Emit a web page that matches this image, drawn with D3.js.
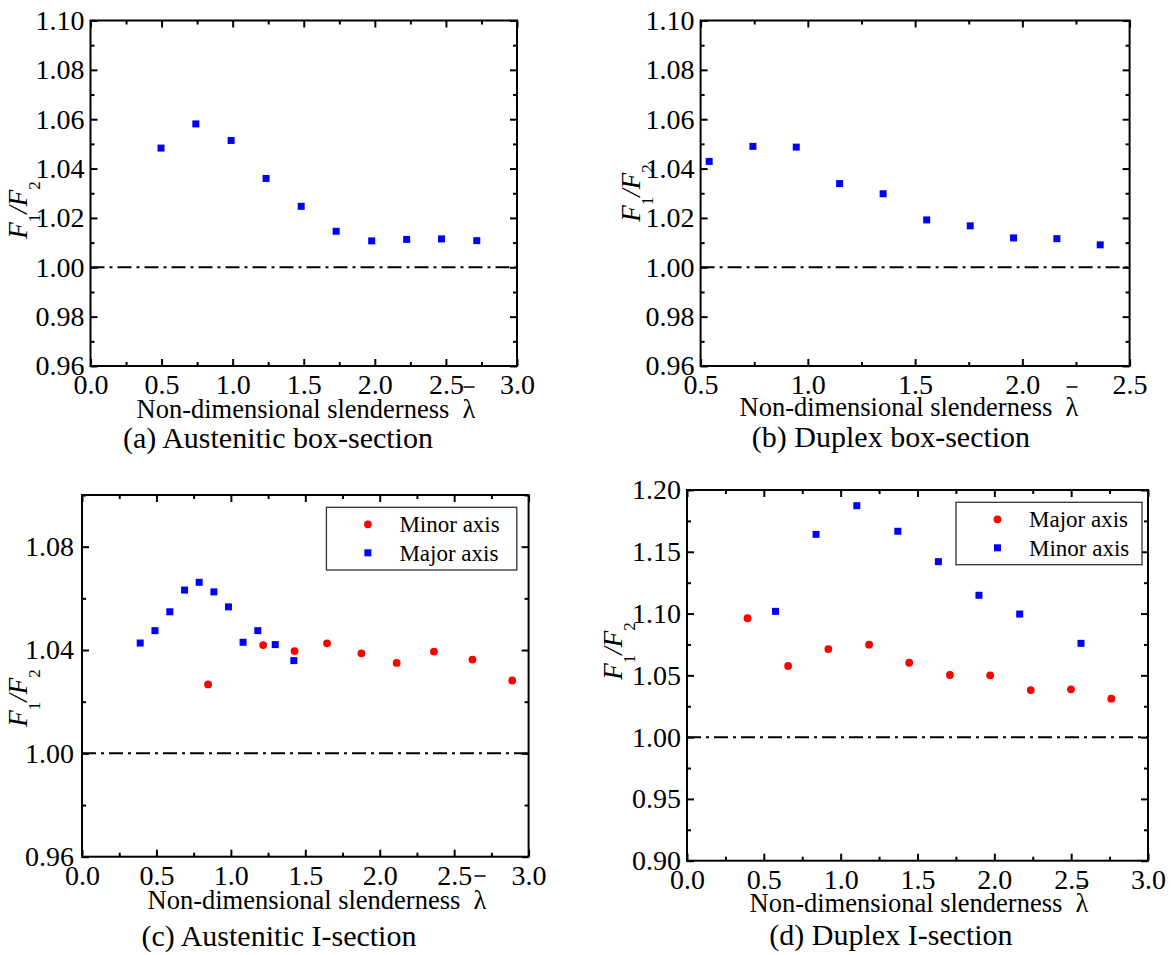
<!DOCTYPE html>
<html lang="en">
<head>
<meta charset="utf-8">
<title>F1/F2 against non-dimensional slenderness</title>
<script src="https://d3js.org/d3.v7.min.js"></script>
<style>
  body { margin: 0; background: #fff; }
  svg { display: block; }
  text { font-family: "Liberation Serif", "Times New Roman", serif; fill: #000; }
</style>
</head>
<body>
<svg id="chart" width="1171" height="955"></svg>
<script>
// (a) austenitic box-section
const lamA   = [0.496, 0.741, 0.989, 1.235, 1.482, 1.728, 1.978, 2.224, 2.469, 2.717];
const ratioA = [1.0483, 1.0581, 1.0514, 1.0360, 1.0247, 1.0146, 1.0107, 1.0113, 1.0115, 1.0108];

// (b) duplex box-section
const lamB   = [0.540, 0.744, 0.946, 1.148, 1.351, 1.554, 1.757, 1.959, 2.161, 2.363];
const ratioB = [1.0429, 1.0490, 1.0487, 1.0339, 1.0298, 1.0192, 1.0168, 1.0119, 1.0116, 1.0091];

// (c) austenitic I-section
const lamCMajor   = [0.391, 0.490, 0.590, 0.689, 0.787, 0.886, 0.984, 1.082, 1.181, 1.298, 1.423];
const ratioCMajor = [1.0427, 1.0475, 1.0548, 1.0632, 1.0662, 1.0625, 1.0567, 1.0430, 1.0475, 1.0421, 1.0359];
const lamCMinor   = [0.847, 1.217, 1.428, 1.646, 1.877, 2.114, 2.364, 2.623, 2.890];
const ratioCMinor = [1.0267, 1.0419, 1.0396, 1.0426, 1.0387, 1.0350, 1.0394, 1.0363, 1.0282];

// (d) duplex I-section
const lamDMajor   = [0.394, 0.658, 0.920, 1.185, 1.446, 1.711, 1.973, 2.237, 2.499, 2.761];
const ratioDMajor = [1.0962, 1.0576, 1.0713, 1.0748, 1.0602, 1.0503, 1.0500, 1.0381, 1.0387, 1.0311];
const lamDMinor   = [0.576, 0.840, 1.105, 1.372, 1.636, 1.900, 2.165, 2.564];
const ratioDMinor = [1.1018, 1.1641, 1.1873, 1.1666, 1.1420, 1.1148, 1.0996, 1.0759];

// ticks
const xTicks03  = [0, 0.5, 1.0, 1.5, 2.0, 2.5, 3.0];
const xLabels03 = ["0.0", "0.5", "1.0", "1.5", "2.0", "2.5", "3.0"];
const xTicksB   = [0.5, 1.0, 1.5, 2.0, 2.5];
const xLabelsB  = ["0.5", "1.0", "1.5", "2.0", "2.5"];
const yTicksBox  = [0.96, 0.98, 1.00, 1.02, 1.04, 1.06, 1.08, 1.10];
const yLabelsBox = ["0.96", "0.98", "1.00", "1.02", "1.04", "1.06", "1.08", "1.10"];
const yTicksC   = [0.96, 1.00, 1.04, 1.08];
const yLabelsC  = ["0.96", "1.00", "1.04", "1.08"];
const yTicksD   = [0.90, 0.95, 1.00, 1.05, 1.10, 1.15, 1.20];
const yLabelsD  = ["0.90", "0.95", "1.00", "1.05", "1.10", "1.15", "1.20"];

const legendC = ["Minor axis", "Major axis"];
const legendD = ["Major axis", "Minor axis"];
const captions = ["(a) Austenitic box-section", "(b) Duplex box-section",
                  "(c) Austenitic I-section", "(d) Duplex I-section"];
const xTitle = "Non-dimensional slenderness\u00a0\u00a0\u03bb";

const RED = "#ff0000", BLUE = "#0000ff";

const panels = [
  { box: [90.5, 20.5, 517, 366], xDom: [0, 3], yDom: [0.96, 1.10],
    xT: xTicks03, xL: xLabels03, xStep: 0.25, yT: yTicksBox, yL: yLabelsBox, yStep: 0.01,
    series: [{ x: lamA, y: ratioA, shape: "square", color: BLUE }],
    cap: captions[0], capX: 278, capY: 448, tX: 306, tY: 418, barY: 387,
    yTX: 27, yTY: 210, yPad: 6 },
  { box: [700.6, 20.5, 1129.6, 366], xDom: [0.5, 2.5], yDom: [0.96, 1.10],
    xT: xTicksB, xL: xLabelsB, xStep: 0.25, yT: yTicksBox, yL: yLabelsBox, yStep: 0.01,
    series: [{ x: lamB, y: ratioB, shape: "square", color: BLUE }],
    cap: captions[1], capX: 891, capY: 447, tX: 909, tY: 416, barY: 387,
    yTX: 640, yTY: 193, yPad: 6 },
  { box: [82, 495, 528.6, 856.7], xDom: [0, 3], yDom: [0.96, 1.10],
    xT: xTicks03, xL: xLabels03, xStep: 0.25, yT: yTicksC, yL: yLabelsC, yStep: 0.02,
    series: [{ x: lamCMinor, y: ratioCMinor, shape: "circle", color: RED },
             { x: lamCMajor, y: ratioCMajor, shape: "square", color: BLUE }],
    legend: { names: legendC, box: [326.4, 507.3, 190.4, 62.7] },
    cap: captions[2], capX: 279, capY: 946, tX: 317, tY: 909, barY: 876,
    yTX: 27, yTY: 698, yPad: 8 },
  { box: [687, 490, 1148, 860.7], xDom: [0, 3], yDom: [0.90, 1.20],
    xT: xTicks03, xL: xLabels03, xStep: 0.25, yT: yTicksD, yL: yLabelsD, yStep: 0.025,
    series: [{ x: lamDMajor, y: ratioDMajor, shape: "circle", color: RED },
             { x: lamDMinor, y: ratioDMinor, shape: "square", color: BLUE }],
    legend: { names: legendD, box: [956, 502.3, 186, 62.4] },
    cap: captions[3], capX: 891, capY: 945, tX: 919, tY: 912, barY: 886,
    yTX: 622, yTY: 651, yPad: 6 }
];

const svg = d3.select("#chart");

function minorTicks(dom, step) {
  const out = [];
  for (let v = dom[0]; v <= dom[1] + 1e-9; v += step) out.push(+v.toFixed(4));
  return out;
}

function styleAxis(g) {
  g.select(".domain").remove();
  g.selectAll("line").attr("stroke", "#000").attr("stroke-width", 2);
  g.attr("font-family", null).attr("font-size", null);
  g.selectAll("text").style("font-size", "28px");
}

panels.forEach(p => {
  const [x0, y0, x1, y1] = p.box;
  const x = d3.scaleLinear().domain(p.xDom).range([x0, x1]);
  const y = d3.scaleLinear().domain(p.yDom).range([y1, y0]);
  const g = svg.append("g");

  const xMinor = minorTicks(p.xDom, p.xStep).filter(v => !p.xT.some(t => Math.abs(t - v) < 1e-6));
  const yMinor = minorTicks(p.yDom, p.yStep).filter(v => !p.yT.some(t => Math.abs(t - v) < 1e-6));
  const none = () => "";

  // ticks, all pointing inward
  g.append("g").attr("transform", `translate(0,${y1})`)
    .call(d3.axisBottom(x).tickValues(p.xT).tickSize(-7).tickPadding(8)
      .tickFormat((d, i) => p.xL[i])).call(styleAxis);
  g.append("g").attr("transform", `translate(0,${y1})`)
    .call(d3.axisBottom(x).tickValues(xMinor).tickSize(-4).tickFormat(none)).call(styleAxis);
  g.append("g").attr("transform", `translate(0,${y0})`)
    .call(d3.axisTop(x).tickValues(p.xT).tickSize(-7).tickFormat(none)).call(styleAxis);
  g.append("g").attr("transform", `translate(0,${y0})`)
    .call(d3.axisTop(x).tickValues(xMinor).tickSize(-4).tickFormat(none)).call(styleAxis);
  g.append("g").attr("transform", `translate(${x0},0)`)
    .call(d3.axisLeft(y).tickValues(p.yT).tickSize(-7).tickPadding(p.yPad)
      .tickFormat((d, i) => p.yL[i])).call(styleAxis);
  g.append("g").attr("transform", `translate(${x0},0)`)
    .call(d3.axisLeft(y).tickValues(yMinor).tickSize(-4).tickFormat(none)).call(styleAxis);
  g.append("g").attr("transform", `translate(${x1},0)`)
    .call(d3.axisRight(y).tickValues(p.yT).tickSize(-7).tickFormat(none)).call(styleAxis);
  g.append("g").attr("transform", `translate(${x1},0)`)
    .call(d3.axisRight(y).tickValues(yMinor).tickSize(-4).tickFormat(none)).call(styleAxis);

  // reference line F1/F2 = 1
  g.append("line")
    .attr("x1", x0).attr("x2", x1).attr("y1", y(1)).attr("y2", y(1))
    .attr("stroke", "#000").attr("stroke-width", 2)
    .attr("stroke-dasharray", "14,5,3,5");

  // frame
  g.append("rect").attr("x", x0).attr("y", y0)
    .attr("width", x1 - x0).attr("height", y1 - y0)
    .attr("fill", "none").attr("stroke", "#000").attr("stroke-width", 2);

  // markers
  p.series.forEach(s => {
    const pts = s.x.map((v, i) => [v, s.y[i]]);
    if (s.shape === "square") {
      g.selectAll(null).data(pts).enter().append("rect")
        .attr("x", d => x(d[0]) - 3.5).attr("y", d => y(d[1]) - 3.5)
        .attr("width", 7).attr("height", 7).attr("fill", s.color);
    } else {
      g.selectAll(null).data(pts).enter().append("circle")
        .attr("cx", d => x(d[0])).attr("cy", d => y(d[1]))
        .attr("r", 3.9).attr("fill", s.color);
    }
  });

  // legend
  if (p.legend) {
    const [lx, ly, lw, lh] = p.legend.box;
    const lg = g.append("g");
    lg.append("rect").attr("x", lx).attr("y", ly).attr("width", lw).attr("height", lh)
      .attr("fill", "#fff").attr("stroke", "#333").attr("stroke-width", 1.3);
    p.series.forEach((s, i) => {
      const cy = ly + 17 + i * 28.5;
      if (s.shape === "square") {
        lg.append("rect").attr("x", lx + 41.5 - 3.5).attr("y", cy - 3.5)
          .attr("width", 7).attr("height", 7).attr("fill", s.color);
      } else {
        lg.append("circle").attr("cx", lx + 41.5).attr("cy", cy).attr("r", 3.9).attr("fill", s.color);
      }
      lg.append("text").attr("x", lx + 73).attr("y", cy + 8)
        .style("font-size", "23px").text(p.legend.names[i]);
    });
  }

  // y title F1/F2
  const yt = g.append("text")
    .attr("transform", `translate(${p.yTX},${p.yTY}) rotate(-90)`)
    .attr("text-anchor", "middle").style("font-size", "27px");
  yt.append("tspan").style("font-style", "italic").text("F");
  yt.append("tspan").attr("dy", 13).style("font-size", "17px").text("1");
  yt.append("tspan").attr("dy", -13).style("font-style", "italic").text("/F");
  yt.append("tspan").attr("dy", 13).style("font-size", "17px").text("2");

  // x title with overbar on lambda
  const xt = g.append("text").attr("x", p.tX).attr("y", p.tY)
    .attr("text-anchor", "middle").style("font-size", "26.5px").text(xTitle);
  const ext = xt.node().getExtentOfChar(xTitle.length - 1);
  const bc = ext.x + ext.width / 2;
  g.append("line").attr("x1", bc - 5.5).attr("x2", bc + 5.5)
    .attr("y1", p.barY).attr("y2", p.barY)
    .attr("stroke", "#000").attr("stroke-width", 1.5);

  // caption
  g.append("text").attr("x", p.capX).attr("y", p.capY)
    .attr("text-anchor", "middle").style("font-size", "30px").text(p.cap);
});
</script>
</body>
</html>
